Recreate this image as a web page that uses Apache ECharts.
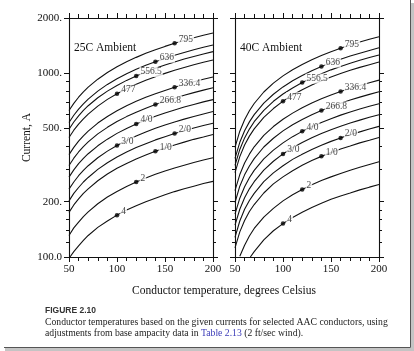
<!DOCTYPE html>
<html>
<head>
<meta charset="utf-8">
<script src="https://cdn.jsdelivr.net/npm/echarts@6/dist/echarts.min.js"></script>
<style>
  html, body { margin: 0; padding: 0; background: #fff; }
  #chart { width: 414px; height: 351px; }
</style>
</head>
<body>
<div id="chart"></div>
<script>
// conductor temperature (deg C) at which currents were read
const temps = [50, 55, 60, 65, 70, 80, 90, 100, 110, 120, 130, 140, 150, 160, 170, 180, 190, 200]
// conductor sizes, bottom curve to top curve
const conductors = ['4', '2', '1/0', '2/0', '3/0', '4/0', '266.8', '336.4', '477', '556.5', '636', '795']
// temperature of the labelled dot on each curve
const dotTemps = [100, 120, 140, 160, 100, 120, 140, 160, 100, 120, 140, 160]

// current (A), 25C ambient panel
const amps25 = [
  [null, 107, 115, 123, 131, 145, 157, 169, 180, 190, 200, 209, 218, 227, 235, 243, 251, 258],
  [131, 144, 155, 166, 176, 195, 212, 227, 242, 256, 269, 282, 294, 305, 316, 327, 337, 347],
  [175, 192, 207, 222, 235, 260, 283, 304, 323, 342, 359, 376, 392, 407, 422, 437, 450, 464],
  [202, 222, 239, 256, 271, 300, 326, 350, 373, 394, 414, 434, 452, 470, 487, 504, 520, 535],
  [234, 256, 277, 296, 314, 347, 377, 405, 431, 456, 479, 502, 523, 543, 563, 582, 601, 619],
  [272, 298, 322, 344, 365, 403, 438, 471, 501, 530, 557, 583, 608, 632, 655, 677, 699, 719],
  [315, 345, 373, 399, 423, 468, 508, 546, 581, 614, 646, 676, 705, 732, 759, 785, 810, 834],
  [361, 395, 427, 457, 484, 536, 582, 625, 666, 704, 740, 774, 807, 839, 870, 899, 928, 955],
  [447, 490, 529, 565, 600, 663, 721, 774, 824, 871, 916, 959, 999, 1039, 1076, 1113, 1148, 1182],
  [496, 543, 587, 628, 666, 736, 800, 859, 915, 967, 1017, 1064, 1109, 1153, 1195, 1235, 1274, 1312],
  [540, 591, 638, 682, 724, 800, 870, 934, 995, 1052, 1106, 1157, 1206, 1254, 1299, 1343, 1386, 1427],
  [627, 686, 741, 793, 841, 929, 1010, 1085, 1155, 1221, 1284, 1344, 1401, 1456, 1509, 1560, 1610, 1658]
]
// current (A), 40C ambient panel
const amps40 = [
  [null, null, null, null, 107, 124, 139, 152, 164, 175, 186, 196, 206, 215, 223, 232, 240, 248],
  [null, 101, 116, 130, 143, 165, 184, 202, 218, 233, 247, 261, 273, 285, 297, 308, 319, 330],
  [112, 137, 158, 177, 193, 223, 250, 273, 295, 316, 335, 353, 370, 387, 402, 418, 432, 447],
  [128, 157, 182, 203, 222, 257, 287, 314, 340, 363, 385, 406, 426, 445, 463, 480, 497, 514],
  [149, 182, 210, 235, 257, 297, 332, 364, 393, 420, 446, 470, 493, 515, 536, 556, 576, 595],
  [171, 209, 241, 270, 296, 342, 382, 418, 452, 483, 512, 540, 566, 592, 616, 639, 661, 683],
  [198, 243, 280, 313, 343, 397, 443, 486, 525, 561, 595, 627, 658, 687, 715, 742, 768, 793],
  [230, 281, 325, 363, 398, 459, 513, 562, 607, 649, 689, 726, 761, 795, 828, 859, 889, 918],
  [288, 352, 407, 455, 498, 576, 643, 705, 761, 814, 863, 910, 954, 997, 1038, 1077, 1114, 1151],
  [315, 385, 445, 497, 545, 629, 704, 771, 832, 890, 944, 995, 1044, 1090, 1134, 1177, 1219, 1259],
  [344, 421, 487, 544, 596, 688, 769, 843, 910, 973, 1032, 1088, 1141, 1192, 1241, 1287, 1332, 1376],
  [395, 484, 559, 625, 685, 791, 884, 968, 1046, 1118, 1186, 1250, 1311, 1369, 1425, 1479, 1531, 1581]
]
// temperature where a curve comes up off the 100 A floor (null = enters from the left edge)
const start25 = [51, null, null, null, null, null, null, null, null, null, null, null]
const start40 = [66, null, null, null, null, null, null, null, null, null, null, null]

// axis ticks
const yLabels = [100, 200, 500, 1000, 2000]
const yMinor = [120, 140, 160, 180, 300, 400, 600, 700, 800, 900]

const serif = '"Liberation Serif", "DejaVu Serif", serif'

const curveData = (vals, startT) => {
  const d = []
  if (startT) d.push([startT, 100])
  temps.forEach((t, i) => {
    if (vals[i] != null) d.push([t, vals[i]])
  })
  return d
}

const makeSeries = (amps, starts, idx) => {
  const out = amps.map((vals, i) => ({
    type: 'line',
    xAxisIndex: idx,
    yAxisIndex: idx,
    data: curveData(vals, starts[i]),
    showSymbol: false,
    lineStyle: { color: '#111', width: 1.1 },
    silent: true,
    z: 2
  }))
  // labelled dots
  out.push({
    type: 'scatter',
    xAxisIndex: idx,
    yAxisIndex: idx,
    symbol: 'circle',
    symbolSize: 4.5,
    itemStyle: { color: '#000' },
    z: 5,
    label: {
      show: true,
      position: 'right',
      distance: 1,
      offset: [0, -4],
      formatter: '{b}',
      fontFamily: serif,
      fontSize: 9.5,
      color: '#111',
      backgroundColor: '#fff',
      padding: [0, 1, 0, 1]
    },
    data: conductors.map((c, i) => ({
      name: c,
      value: [dotTemps[i], amps[i][temps.indexOf(dotTemps[i])]]
    }))
  })
  return out
}

const gridBox = [
  { left: 69, top: 18, width: 144, height: 239 },
  { left: 235, top: 18, width: 144, height: 239 }
]

const axisLineStyle = { lineStyle: { color: '#111', width: 1.1 } }

const xAxes = []
const yAxes = []
;[0, 1].forEach((g) => {
  xAxes.push({
    type: 'value', gridIndex: g, min: 50, max: 200, interval: 50, position: 'bottom',
    axisLine: axisLineStyle,
    axisTick: { length: 5, lineStyle: { color: '#111' } },
    minorTick: { show: true, splitNumber: 5, length: 4, lineStyle: { color: '#111' } },
    axisLabel: { fontFamily: serif, fontSize: 11, color: '#111', margin: 7 },
    splitLine: { show: false }
  })
  yAxes.push({
    type: 'log', gridIndex: g, min: 100, max: 2000, position: 'left',
    name: g === 0 ? 'Current, A' : '',
    nameLocation: 'middle',
    nameGap: 36,
    nameTextStyle: { fontFamily: serif, fontSize: 11.5, color: '#111' },
    axisLine: axisLineStyle,
    axisTick: { length: 5, customValues: yLabels, lineStyle: { color: '#111' } },
    axisLabel: {
      show: g === 0,
      customValues: yLabels,
      fontFamily: serif, fontSize: 11, color: '#111', margin: 7,
      formatter: (v) => (v === 100 ? '100.0' : v + '.')
    },
    splitLine: { show: false }
  })
})
// mirrored frame axes (top and right) and minor log ticks
;[0, 1].forEach((g) => {
  xAxes.push({
    type: 'value', gridIndex: g, min: 50, max: 200, interval: 50, position: 'top',
    axisLine: axisLineStyle,
    axisTick: { length: 5, lineStyle: { color: '#111' } },
    minorTick: { show: true, splitNumber: 5, length: 4, lineStyle: { color: '#111' } },
    axisLabel: { show: false },
    splitLine: { show: false }
  })
  ;['left', 'right'].forEach((pos) => {
    yAxes.push({
      type: 'log', gridIndex: g, min: 100, max: 2000, position: pos,
      axisLine: { show: pos === 'right', lineStyle: { color: '#111', width: 1.1 } },
      axisTick: { length: 3, customValues: yMinor, lineStyle: { color: '#111' } },
      axisLabel: { show: false },
      splitLine: { show: false }
    })
  })
  yAxes.push({
    type: 'log', gridIndex: g, min: 100, max: 2000, position: 'right',
    axisLine: { show: false },
    axisTick: { length: 5, customValues: yLabels, lineStyle: { color: '#111' } },
    axisLabel: { show: false },
    splitLine: { show: false }
  })
})

const option = {
  animation: false,
  backgroundColor: '#fff',
  grid: gridBox,
  xAxis: xAxes,
  yAxis: yAxes,
  series: makeSeries(amps25, start25, 0).concat(makeSeries(amps40, start40, 1)),
  graphic: [
    { type: 'text', left: 74, top: 42, z: 10,
      style: { text: '25C Ambient', font: '11.5px ' + serif, fill: '#111' } },
    { type: 'text', left: 240, top: 42, z: 10,
      style: { text: '40C Ambient', font: '11.5px ' + serif, fill: '#111' } },
    { type: 'text', x: 224, y: 291, z: 10,
      style: { text: 'Conductor temperature, degrees Celsius', font: '11.5px ' + serif,
        fill: '#111', align: 'center', verticalAlign: 'middle' } },
    { type: 'text', x: 45, y: 311, z: 10,
      style: { text: 'FIGURE 2.10', font: 'bold 8.5px "Liberation Sans", sans-serif',
        fill: '#333', verticalAlign: 'middle' } },
    { type: 'text', x: 45, y: 322, z: 10,
      style: { text: 'Conductor temperatures based on the given currents for selected AAC conductors, using',
        font: '9.7px ' + serif, fill: '#222', verticalAlign: 'middle' } },
    { type: 'text', x: 45, y: 333, z: 10,
      style: {
        text: '{a|adjustments from base ampacity data in }{b|Table 2.13}{a| (2 ft/sec wind).}',
        verticalAlign: 'middle',
        rich: {
          a: { fontFamily: serif, fontSize: 9.7, fill: '#222' },
          b: { fontFamily: serif, fontSize: 9.7, fill: '#3b3bb8' }
        }
      } },
    // page frame and shadow
    { type: 'rect', shape: { x: 411, y: 3, width: 3, height: 348 }, style: { fill: '#c4c4c4' }, z: 9 },
    { type: 'rect', shape: { x: 5, y: 348, width: 409, height: 3 }, style: { fill: '#c4c4c4' }, z: 9 },
    { type: 'line', shape: { x1: 410.5, y1: 0, x2: 410.5, y2: 347.5 }, style: { stroke: '#555', lineWidth: 1 }, z: 10 },
    { type: 'line', shape: { x1: 4, y1: 347.5, x2: 410.5, y2: 347.5 }, style: { stroke: '#555', lineWidth: 1 }, z: 10 }
  ]
}

const chartDiv = document.getElementById('chart')
const chart = echarts.init(chartDiv)
chart.setOption(option)
</script>
</body>
</html>
